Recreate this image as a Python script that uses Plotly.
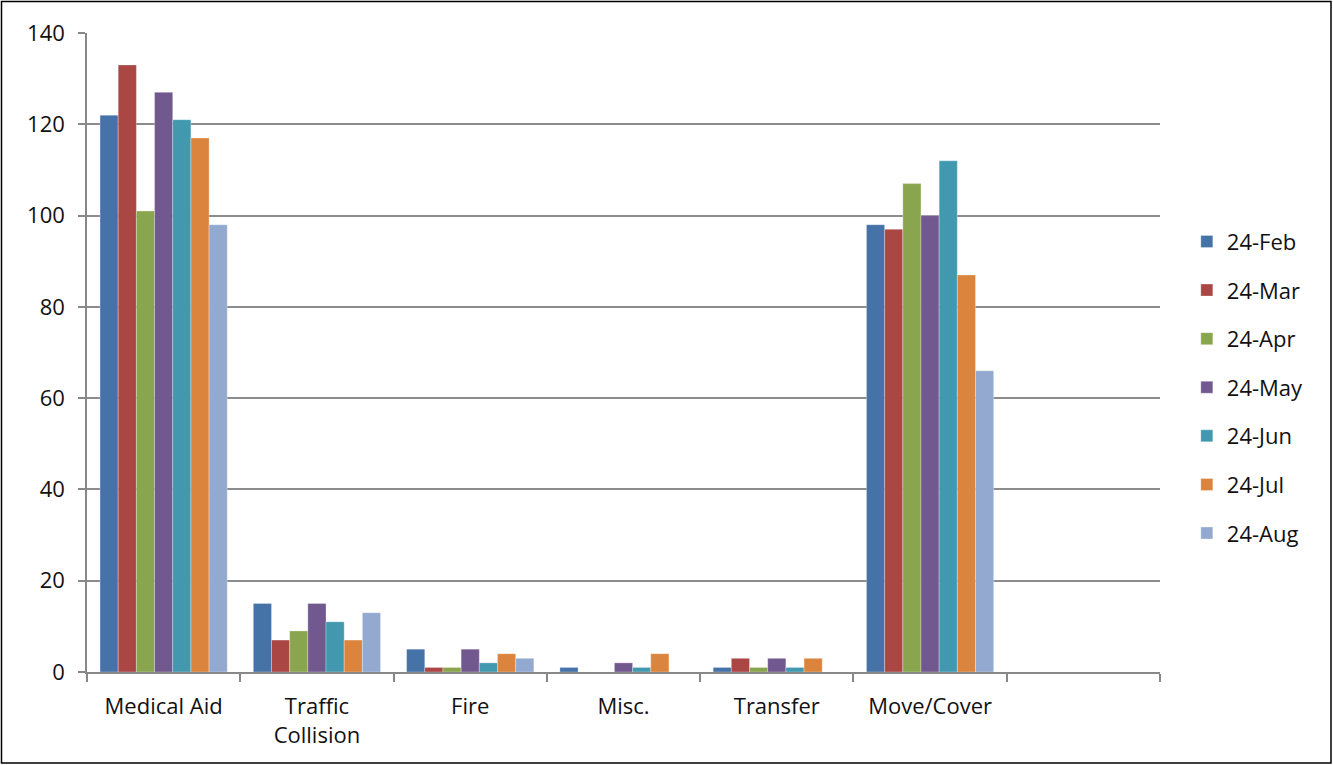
import plotly.graph_objects as go

categories = ["Medical Aid", "Traffic<br>Collision", "Fire", "Misc.", "Transfer", "Move/Cover", " "]
months = ["24-Feb", "24-Mar", "24-Apr", "24-May", "24-Jun", "24-Jul", "24-Aug"]
colors = ["#4572A7", "#AA4643", "#89A54E", "#71588F", "#4198AF", "#DB843D", "#93A9CF"]

feb = [122, 15, 5, 1, 1, 98]
mar = [133, 7, 1, 0, 3, 97]
apr = [101, 9, 1, 0, 1, 107]
may = [127, 15, 5, 2, 3, 100]
jun = [121, 11, 2, 1, 1, 112]
jul = [117, 7, 4, 4, 3, 87]
aug = [98, 13, 3, 0, 0, 66]
series = [feb, mar, apr, may, jun, jul, aug]

W, H = 1333, 765
ml, mr, mt, mb = 87, 173, 33, 93

fig = go.Figure()
for i, (name, vals) in enumerate(zip(months, series)):
    fig.add_trace(go.Bar(
        x=categories[:6], y=vals, name=name,
        marker=dict(color=colors[i], line=dict(width=0.6, color="rgba(255,255,255,0.5)")),
        legendgroup=name,
    ))

pw = W - ml - mr
ph = H - mt - mb
fig.add_shape(type="rect", xref="paper", yref="paper",
              x0=(1.5 - ml) / pw, x1=(W - 2 - ml) / pw,
              y0=-(H - 2 - mt - ph) / ph, y1=(mt - 1.5) / ph + 1,
              line=dict(color="black", width=1.5), layer="below")

fig.update_layout(
    width=W, height=H,
    margin=dict(l=ml, r=mr, t=mt, b=mb),
    paper_bgcolor="white", plot_bgcolor="white",
    barmode="group", bargap=0.17, bargroupgap=0,
    font=dict(family="Open Sans, Liberation Sans, sans-serif", size=22, color="#111"),
    legend=dict(x=1.025, y=0.445, xanchor="left", yanchor="middle",
                font=dict(size=22), tracegroupgap=17, itemwidth=30),
    showlegend=True,
)
fig.update_xaxes(
    type="category", categoryorder="array", categoryarray=categories,
    range=[-0.5, 6.5], tickson="boundaries", ticks="outside", ticklen=8,
    tickcolor="#888", tickwidth=1.5, showline=True, linecolor="#888", linewidth=1.5,
    showgrid=False, tickfont=dict(size=22), ticklabelstandoff=14,
)
fig.update_yaxes(
    range=[0, 140], dtick=20, ticks="outside", ticklen=7, tickcolor="#888", tickwidth=1.5,
    showline=True, linecolor="#888", linewidth=1.5, showgrid=True, gridcolor="#8c8c8c",
    gridwidth=1.5, zeroline=False, tickfont=dict(size=22), ticklabelstandoff=9,
)

fig.write_html("out.html", config={"displayModeBar": False},
               post_script="document.body.style.margin='0px';")
